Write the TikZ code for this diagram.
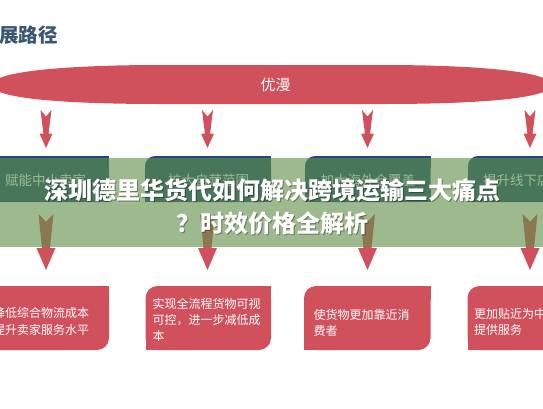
\documentclass[tikz,border=0pt]{standalone}
\usepackage{fontspec}
\setmainfont{Noto Sans CJK SC}
\definecolor{redc}{RGB}{208,80,92}
\definecolor{navyc}{RGB}{30,76,118}
\definecolor{ovc}{RGB}{97,145,74}
\definecolor{headc}{RGB}{59,86,115}
\tikzset{
  redfill/.style={fill=redc},
  darkbox/.style={fill=navyc},
  overlay/.style={fill=ovc, opacity=0.62},
  boxtxt/.style={text=white, inner sep=0pt, anchor=base west, font=\fontsize{12}{14}\selectfont},
  dtxt/.style={text=white, inner sep=0pt, anchor=base west, font=\fontsize{13.5}{15}\selectfont},
  bigtxt/.style={text=white, inner sep=0pt, anchor=base, font=\bfseries\fontsize{24}{26}\selectfont},
  shadowtxt/.style={text=black, text opacity=0.35, inner sep=0pt, anchor=base, font=\bfseries\fontsize{24}{26}\selectfont},
}
\begin{document}
\begin{tikzpicture}[x=1pt,y=-1pt]
\useasboundingbox (0,0) rectangle (543,408);
\clip (0,0) rectangle (543,408);
\fill[white] (0,0) rectangle (543,408);

% heading
\node[inner sep=0pt, anchor=base west, text=headc, font=\bfseries\fontsize{19.5}{21}\selectfont] (head) at (-1,42.5) {展路径};

% banner
\fill[redfill] (-8,85) .. controls (-8,70) and (80,65) .. (160,65) -- (383,65)
  .. controls (463,65) and (551,70) .. (551,85)
  .. controls (551,100) and (463,104) .. (383,104) -- (160,104)
  .. controls (80,104) and (-8,100) .. (-8,85) -- cycle;
\node[inner sep=0pt, anchor=base, text=white, font=\fontsize{15}{16}\selectfont] (ban) at (275.5,90.7) {优漫};

% upper arrows
\foreach \cx/\nm in {46/ua1,207.5/ua2,367.5/ua3,530/ua4}{
  \coordinate (\nm) at (\cx,110);
  \fill[redfill] (\cx-5.5,110) -- (\cx,116.5) -- (\cx+5.5,110) -- (\cx+2.6,133.5)
    -- (\cx+6.5,133.5) -- (\cx,148) -- (\cx-6.5,133.5) -- (\cx-2.6,133.5) -- cycle;
}

% dark boxes (top-left rounded)
\foreach \xa/\xb in {-17/109,145/271,305/430.5,468/594}{
  \fill[darkbox, rounded corners=10pt] (\xa,156) rectangle (\xb,202);
  \fill[darkbox] (\xb,156) rectangle ++(-12,12);
  \fill[darkbox] (\xa,202) rectangle ++(12,-12);
  \fill[darkbox] (\xb,202) rectangle ++(-12,-12);
}
\node[dtxt] (d1) at (5,185) {赋能中小卖家};
\node[dtxt] (d2) at (168,185) {扩大自营范围};
\node[dtxt] (d3) at (320.5,185) {加大海外仓覆盖};
\node[dtxt] (d4) at (483,185) {提升线下店};

% lower arrows
\foreach \cx/\nm in {46/la1,207.5/la2,367.5/la3,530/la4}{
  \coordinate (\nm) at (\cx,214);
  \fill[redfill] (\cx-7.5,214) -- (\cx,221.5) -- (\cx+7.5,214) -- (\cx+4,248)
    -- (\cx+9.5,248) -- (\cx,270) -- (\cx-9.5,248) -- (\cx-4,248) -- cycle;
}

% red boxes (top-left and bottom-right rounded)
\foreach \xa/\xb in {-16/109,145.5/271,304/430.5,467.5/594}{
  \fill[redfill, rounded corners=12pt] (\xa,286) rectangle (\xb,350);
  \fill[redfill] (\xb,286) rectangle ++(-14,14);
  \fill[redfill] (\xa,350) rectangle ++(14,-14);
}
\node[boxtxt] (b1a) at (-7,317.6) {降低综合物流成本};
\node[boxtxt] (b1b) at (-7,334.1) {提升卖家服务水平};
\node[boxtxt] (b2a) at (152.5,308.3) {实现全流程货物可视};
\node[boxtxt] (b2b) at (152.5,324.3) {可控，进一步减低成};
\node[boxtxt] (b2c) at (152.5,340.3) {本};
\node[boxtxt] (b3a) at (313.5,319) {使货物更加靠近消};
\node[boxtxt] (b3b) at (313.5,335.5) {费者};
\node[boxtxt] (b4a) at (474,318) {更加贴近为中};
\node[boxtxt] (b4b) at (474,334.5) {提供服务};

% green overlay band
\fill[overlay] (0,158) rectangle (543,247);

% overlay title
\node[shadowtxt] (s1) at (273,200.6) {深圳德里华货代如何解决跨境运输三大痛点};
\node[shadowtxt] (s2) at (273,233) {？时效价格全解析};
\node[bigtxt] (t1) at (272,199.6) {深圳德里华货代如何解决跨境运输三大痛点};
\node[bigtxt] (t2) at (272,232) {？时效价格全解析};
\end{tikzpicture}
\end{document}
